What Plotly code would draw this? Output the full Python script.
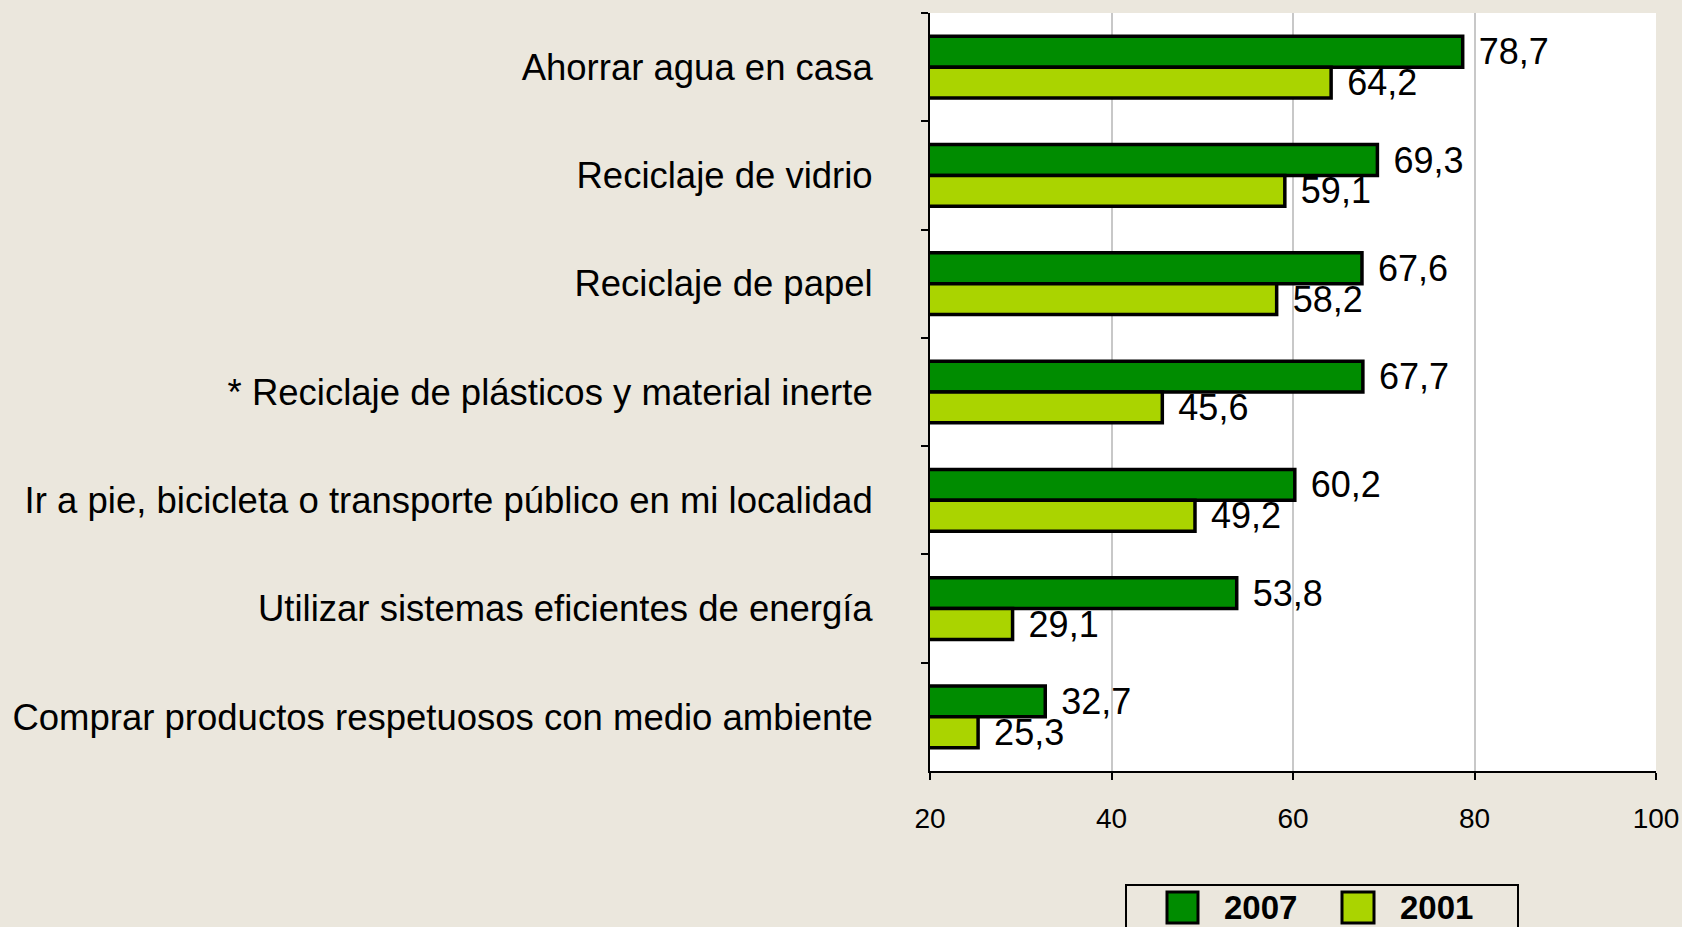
import plotly.graph_objects as go

# data
categorias = [
    "Ahorrar agua en casa",
    "Reciclaje de vidrio",
    "Reciclaje de papel",
    "* Reciclaje de plásticos y material inerte",
    "Ir a pie, bicicleta o transporte público en mi localidad",
    "Utilizar sistemas eficientes de energía",
    "Comprar productos respetuosos con medio ambiente",
]
valores_2007 = [78.7, 69.3, 67.6, 67.7, 60.2, 53.8, 32.7]
valores_2001 = [64.2, 59.1, 58.2, 45.6, 49.2, 29.1, 25.3]
series = ["2007", "2001"]
colores = ["#008c00", "#aad400"]
ticks_x = [20, 40, 60, 80, 100]

W, H = 1682, 927
ML, MR, MT, MB = 930, 26, 13, 156
FONT = "Liberation Sans, Arial, sans-serif"


def px_x(x):
    # pixel -> paper (plot domain) coordinate
    return (x - ML) / (W - ML - MR)


def px_y(y):
    return (H - MB - y) / (H - MT - MB)


fig = go.Figure()
for nombre, vals, color in zip(series, [valores_2007, valores_2001], colores):
    fig.add_trace(go.Bar(
        y=categorias, x=vals, name=nombre, orientation="h",
        marker=dict(color=color, line=dict(color="black", width=3.5)),
        texttemplate="\u00a0\u200a%{x:.1f}", textposition="outside",
        textfont=dict(size=36, color="black", family=FONT),
        constraintext="none", cliponaxis=False, showlegend=False,
    ))

# legend drawn by hand so the swatches are as big as the original
fig.add_shape(type="rect", xref="paper", yref="paper",
              x0=px_x(1126), x1=px_x(1518), y0=px_y(885), y1=px_y(940),
              line=dict(color="black", width=2), fillcolor="rgba(0,0,0,0)")
cajas = [(1167, 1198, 1222), (1342, 1374, 1398)]
for (a, b, t), nombre, color in zip(cajas, series, colores):
    fig.add_shape(type="rect", xref="paper", yref="paper",
                  x0=px_x(a), x1=px_x(b), y0=px_y(892), y1=px_y(923),
                  line=dict(color="black", width=3), fillcolor=color)
    fig.add_annotation(text="<b>" + nombre + "</b>", xref="paper", yref="paper",
                       x=px_x(t), y=px_y(907), xanchor="left", yanchor="middle",
                       showarrow=False, font=dict(size=33, color="black", family=FONT))

fig.update_layout(
    width=W, height=H,
    margin=dict(l=ML, r=MR, t=MT, b=MB),
    paper_bgcolor="#ebe7dd", plot_bgcolor="white",
    barmode="group", bargap=0.43, bargroupgap=0,
    separators=",.",
    font=dict(family=FONT, color="black"),
    showlegend=False,
)
fig.update_xaxes(
    range=[20, 100], tickvals=ticks_x, ticks="outside", ticklen=7, tickwidth=2,
    tickcolor="black", showline=True, linecolor="black", linewidth=2,
    showgrid=True, gridcolor="#c8c8c8", gridwidth=2, zeroline=False,
    tickfont=dict(size=28), ticklabelstandoff=14, automargin=False,
)
fig.update_yaxes(
    type="category", autorange="reversed", tickson="boundaries",
    ticks="outside", ticklen=7, tickwidth=2, tickcolor="black",
    showline=True, linecolor="black", linewidth=2, showgrid=False,
    tickfont=dict(size=36.5), ticklabelstandoff=48, automargin=False,
)

fig.write_html("out.html", config={"displayModeBar": False},
               post_script="document.body.style.margin='0';document.body.style.background='#ebe7dd';")
